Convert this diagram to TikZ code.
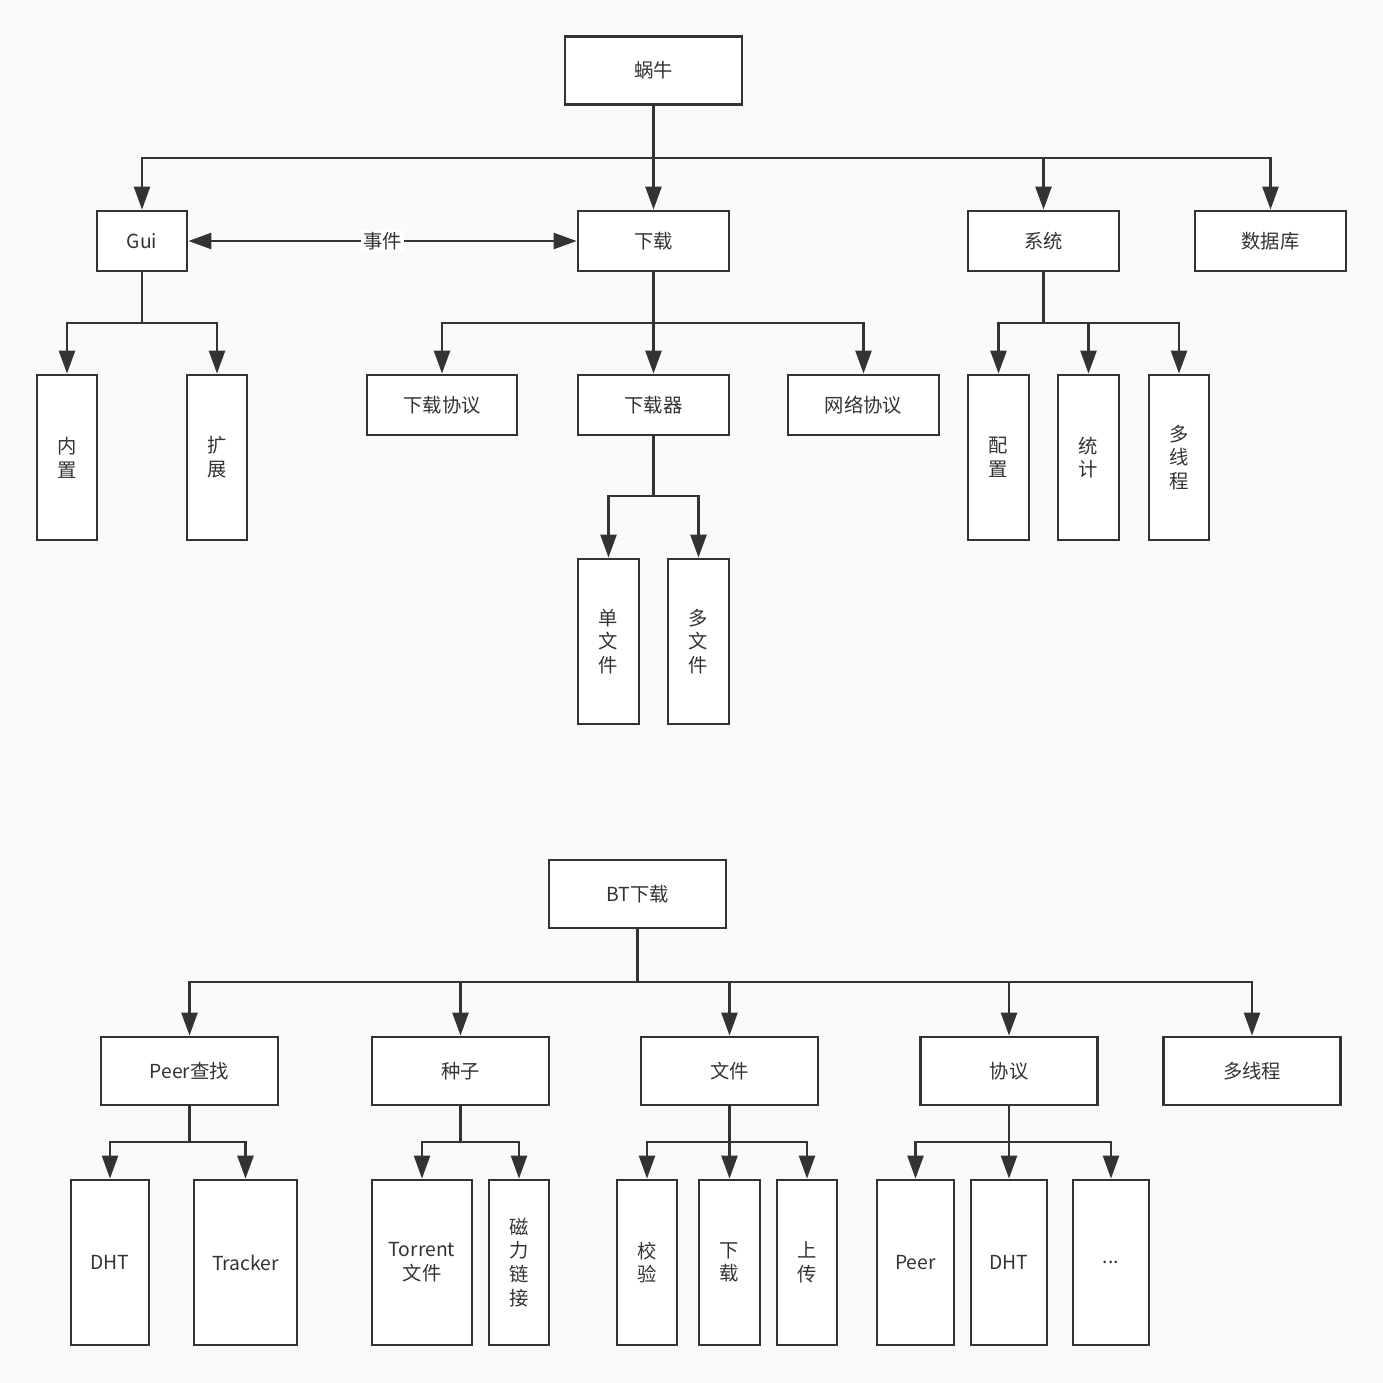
\documentclass[tikz,border=0pt]{standalone}
\usepackage{fontspec}
\setmainfont{Noto Sans CJK SC}
\usetikzlibrary{arrows.meta}
\definecolor{ink}{HTML}{333333}
\definecolor{paper}{HTML}{FAFAFA}

\begin{document}
\begin{tikzpicture}[x=0.02cm,y=-0.02cm,
  box/.style={draw=ink,fill=white,line width=1.6pt,text=ink,align=center,inner sep=0pt,
    font=\fontsize{11}{13.5}\selectfont},
  big/.style={box,minimum width=3.54cm,minimum height=1.36cm},
  flat/.style={box,minimum width=#1,minimum height=1.2cm},
  tall/.style={box,minimum width=#1,minimum height=3.3cm},
  link/.style={draw=ink,line width=1.4pt,-{Triangle[length=0.46cm,width=0.32cm]}}]
\fill[paper] (0,0) rectangle (1383,1383);

% upper tree
\node[big] (wn) at (653.5,70.5) {蜗牛};
\node[flat=1.8cm] (gui) at (142,241) {Gui};
\node[flat=3.02cm] (xz) at (653.5,241) {下载};
\node[flat=3.02cm] (xt) at (1043.5,241) {系统};
\node[flat=3.02cm] (sjk) at (1270.5,241) {数据库};
\node[tall=1.2cm] (nz) at (67,457.5) {内\\置};
\node[tall=1.2cm] (kz) at (217,457.5) {扩\\展};
\node[flat=3cm] (xzxy) at (442,405) {下载协议};
\node[flat=3.02cm] (xzq) at (653.5,405) {下载器};
\node[flat=3.02cm] (wlxy) at (863.5,405) {网络协议};
\node[tall=1.22cm] (dwj) at (608.5,641.5) {单\\文\\件};
\node[tall=1.22cm] (duowj) at (698.5,641.5) {多\\文\\件};
\node[tall=1.22cm] (pz) at (998.5,457.5) {配\\置};
\node[tall=1.22cm] (tj) at (1088.5,457.5) {统\\计};
\node[tall=1.2cm] (dxc) at (1179,457.5) {多\\线\\程};

\coordinate (b0) at (653.5,158);
\coordinate (b1) at (142,323);
\coordinate (b2) at (653.5,323);
\coordinate (b3) at (653.5,496);
\coordinate (b4) at (1043.5,323);
\foreach \c in {gui,xz,xt,sjk}
  \draw[link] (wn.south) -- (b0) -| (\c.north);
\foreach \c in {nz,kz}
  \draw[link] (gui.south) -- (b1) -| (\c.north);
\foreach \c in {xzxy,xzq,wlxy}
  \draw[link] (xz.south) -- (b2) -| (\c.north);
\foreach \c in {dwj,duowj}
  \draw[link] (xzq.south) -- (b3) -| (\c.north);
\foreach \c in {pz,tj,dxc}
  \draw[link] (xt.south) -- (b4) -| (\c.north);
\draw[link,{Triangle[length=0.46cm,width=0.32cm]}-{Triangle[length=0.46cm,width=0.32cm]}]
  (gui) -- node[fill=white,text=ink,inner sep=1pt,font=\fontsize{11}{13.5}\selectfont] {事件} (xz);

% BT tree
\node[big] (bt) at (637.5,894) {BT下载};
\node[big] (peer) at (189.5,1071) {Peer查找};
\node[big] (zz) at (460.5,1071) {种子};
\node[big] (wj) at (729.5,1071) {文件};
\node[big] (xy) at (1009,1071) {协议};
\node[big] (bdxc) at (1252,1071) {多线程};
\node[tall=1.56cm] (dht) at (110,1262.5) {DHT};
\node[tall=2.06cm] (tracker) at (245.5,1262.5) {Tracker};
\node[tall=2cm] (torrent) at (422,1262.5) {Torrent\\文件};
\node[tall=1.2cm] (cllj) at (519,1262.5) {磁\\力\\链\\接};
\node[tall=1.2cm] (jy) at (647,1262.5) {校\\验};
\node[tall=1.22cm] (bxz) at (729.5,1262.5) {下\\载};
\node[tall=1.2cm] (sc) at (807,1262.5) {上\\传};
\node[tall=1.54cm] (xpeer) at (915.5,1262.5) {Peer};
\node[tall=1.52cm] (xdht) at (1009,1262.5) {DHT};
\node[tall=1.52cm] (etc) at (1111,1262.5) {...};

\coordinate (c0) at (637.5,982);
\coordinate (c1) at (189.5,1142);
\coordinate (c2) at (460.5,1142);
\coordinate (c3) at (729.5,1142);
\coordinate (c4) at (1009,1142);
\foreach \c in {peer,zz,wj,xy,bdxc}
  \draw[link] (bt.south) -- (c0) -| (\c.north);
\foreach \c in {dht,tracker}
  \draw[link] (peer.south) -- (c1) -| (\c.north);
\foreach \c in {torrent,cllj}
  \draw[link] (zz.south) -- (c2) -| (\c.north);
\foreach \c in {jy,bxz,sc}
  \draw[link] (wj.south) -- (c3) -| (\c.north);
\foreach \c in {xpeer,xdht,etc}
  \draw[link] (xy.south) -- (c4) -| (\c.north);
\end{tikzpicture}
\end{document}
